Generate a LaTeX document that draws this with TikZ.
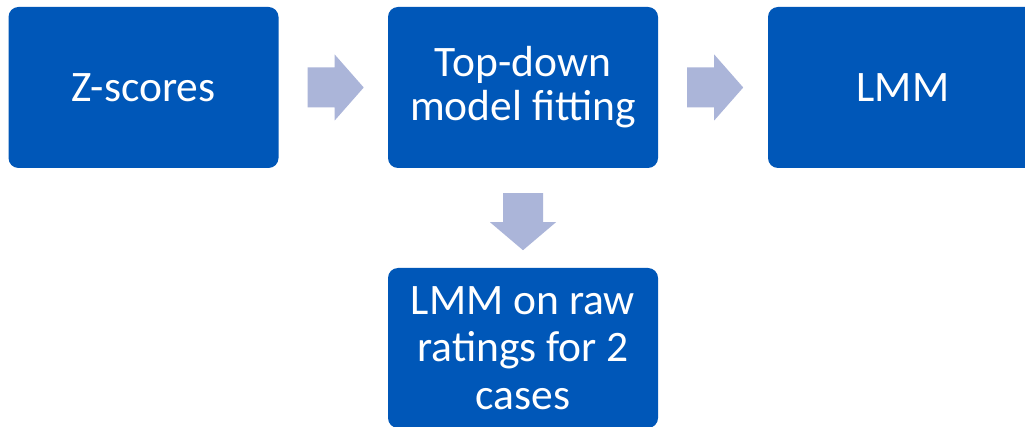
\documentclass[tikz,border=0pt]{standalone}
\usepackage{fontspec}
\setmainfont{Carlito}
\definecolor{boxblue}{RGB}{0,87,184}
\definecolor{arrowgray}{RGB}{171,181,217}
\tikzset{
  stage/.style={fill=boxblue, rounded corners=10pt, text=white, align=center,
    inner sep=0pt, minimum width=270pt, minimum height=161pt,
    font=\fontsize{43.5}{47.5}\selectfont},
  blockarrow/.style={fill=arrowgray, draw=none}
}
\begin{document}
\begin{tikzpicture}[x=1pt,y=-1pt]
\clip (0,0) rectangle (1025,427);
\fill[white] (0,0) rectangle (1025,427);

\node[stage] (z) at (143.5,87.5) {Z-scores};
\node[stage, font=\fontsize{43.5}{44}\selectfont] (t) at (523,87.5) {Top-down\\model fitting};
\node[stage] (l) at (903,87.5) {LMM};
\node[stage, minimum height=160pt] (b) at (523,348) {LMM on raw\\ratings for 2\\cases};

% right-pointing block arrows between the stages
\foreach \a/\bb in {z/t, t/l} {
  \path (\a.east) ++(29,0) coordinate (s);
  \fill[blockarrow] (s) ++(0,-20) -- ++(27,0) -- ++(0,-13) -- ++(29,33)
    -- ++(-29,33) -- ++(0,-13) -- ++(-27,0) -- cycle;
}
% downward block arrow
\path (t.south) ++(0,25) coordinate (d);
\fill[blockarrow] (d) ++(-20,0) -- ++(40,0) -- ++(0,29) -- ++(13,0)
  -- ++(-33,28) -- ++(-33,-28) -- ++(13,0) -- cycle;
\end{tikzpicture}
\end{document}
